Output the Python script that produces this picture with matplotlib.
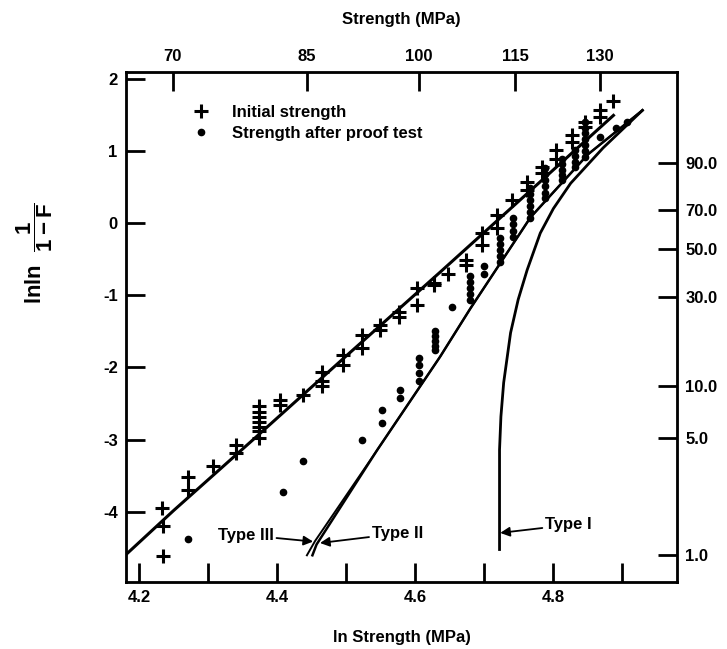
import numpy as np
import matplotlib
matplotlib.use("Agg")
import matplotlib.pyplot as plt

plt.rcParams['font.family'] = ['Liberation Sans', 'DejaVu Sans']
plt.rcParams['font.weight'] = 'bold'
plt.rcParams['mathtext.fontset'] = 'custom'
plt.rcParams['mathtext.rm'] = 'Liberation Sans:bold'
plt.rcParams['mathtext.bf'] = 'Liberation Sans:bold'
plt.rcParams['mathtext.it'] = 'Liberation Sans:bold'

# ---------------- data ----------------
# Initial strength (+): ln strength, ln ln 1/(1-F)
init_x = [4.233, 4.234, 4.235, 4.271, 4.271, 4.307, 4.341, 4.341,
          4.373, 4.373, 4.373, 4.373, 4.373, 4.373, 4.373,
          4.404, 4.404, 4.437, 4.465, 4.465, 4.465, 4.495, 4.495,
          4.523, 4.523, 4.549, 4.549, 4.576, 4.576, 4.602, 4.602, 4.627,
          4.627, 4.648, 4.674, 4.674, 4.697, 4.697, 4.718, 4.718, 4.740,
          4.762, 4.762, 4.784, 4.784, 4.804, 4.804, 4.827, 4.827,
          4.846, 4.846, 4.868, 4.868, 4.886]
init_y = [-3.94, -4.19, -4.61, -3.52, -3.70, -3.36, -3.08, -3.19,
          -2.54, -2.61, -2.68, -2.75, -2.82, -2.88, -2.97,
          -2.45, -2.52, -2.38, -2.06, -2.19, -2.26, -1.83, -1.96,
          -1.55, -1.73, -1.41, -1.48, -1.23, -1.30, -0.90, -1.13, -0.83,
          -0.86, -0.70, -0.51, -0.58, -0.14, -0.30, 0.11, -0.07, 0.32,
          0.57, 0.46, 0.78, 0.69, 1.01, 0.89, 1.22, 1.12,
          1.40, 1.33, 1.56, 1.47, 1.69]

# Strength after proof test (dots)
proof_x = [4.271, 4.408, 4.437, 4.523, 4.552, 4.552, 4.578, 4.578,
           4.605, 4.605, 4.605, 4.605,
           4.629, 4.629, 4.629, 4.629, 4.629,
           4.653, 4.679, 4.679, 4.679, 4.679, 4.679, 4.699, 4.699,
           4.722, 4.722, 4.722, 4.722, 4.722,
           4.742, 4.742, 4.742, 4.742,
           4.766, 4.766, 4.766, 4.766, 4.766, 4.766,
           4.788, 4.788, 4.788, 4.788, 4.788, 4.788,
           4.813, 4.813, 4.813, 4.813, 4.813,
           4.832, 4.832, 4.832, 4.832,
           4.846, 4.846, 4.846, 4.846, 4.846, 4.846, 4.846,
           4.868, 4.890, 4.907]
proof_y = [-4.38, -3.73, -3.30, -3.00, -2.59, -2.77, -2.31, -2.42,
           -1.87, -1.96, -2.08, -2.19,
           -1.50, -1.56, -1.63, -1.70, -1.76,
           -1.16, -0.74, -0.82, -0.90, -0.98, -1.07, -0.60, -0.70,
           -0.21, -0.29, -0.37, -0.46, -0.54,
           0.07, -0.02, -0.11, -0.19,
           0.48, 0.40, 0.32, 0.24, 0.15, 0.07,
           0.76, 0.68, 0.60, 0.51, 0.42, 0.34,
           0.89, 0.82, 0.74, 0.66, 0.59,
           1.01, 0.93, 0.85, 0.78,
           1.40, 1.32, 1.24, 1.16, 1.08, 1.00, 0.92,
           1.19, 1.31, 1.40]

# Fitted line for initial strength
fit_x = [4.181, 4.25, 4.365, 4.50, 4.636, 4.76, 4.887]
fit_y = [-4.59, -3.98, -3.00, -1.84, -0.68, 0.39, 1.49]

# Type II / Type III predictions
type2_x = [4.451, 4.457, 4.545, 4.636, 4.680, 4.767, 4.85, 4.929]
type2_y = [-4.60, -4.45, -3.14, -1.85, -1.18, 0.08, 0.95, 1.56]
type3_x = [4.443, 4.455, 4.545, 4.636, 4.680, 4.767, 4.85, 4.929]
type3_y = [-4.60, -4.40, -3.14, -1.85, -1.18, 0.08, 0.95, 1.56]

# Type I prediction
type1_x = [4.722, 4.722, 4.722, 4.724, 4.728, 4.738, 4.749, 4.762, 4.781, 4.800, 4.825, 4.872, 4.929]
type1_y = [-4.52, -3.60, -3.14, -2.68, -2.21, -1.52, -1.06, -0.65, -0.14, 0.20, 0.55, 1.04, 1.56]

# Axis ticks
x_ticks = [4.2, 4.3, 4.4, 4.5, 4.6, 4.7, 4.8, 4.9]
x_ticklabels = ['4.2', '', '4.4', '', '4.6', '', '4.8', '']
y_ticks = [2, 1, 0, -1, -2, -3, -4]
top_mpa = [70, 85, 100, 115, 130]
right_pct = [90.0, 70.0, 50.0, 30.0, 10.0, 5.0, 1.0]

# ---------------- plot ----------------
fig = plt.figure(figsize=(7.27, 6.49), dpi=100)
ax = fig.add_axes([0.1733, 0.1032, 0.7579, 0.7858])
ax.set_xlim(4.181, 4.979)
ax.set_ylim(-4.97, 2.09)

ax.plot(fit_x, fit_y, color='black', lw=2.2)
ax.plot(type2_x, type2_y, color='black', lw=1.8)
ax.plot(type3_x, type3_y, color='black', lw=1.4)
ax.plot(type1_x, type1_y, color='black', lw=2.0)

ax.plot(init_x, init_y, linestyle='none', marker='+', markersize=10,
        markeredgewidth=2.2, color='black', label='Initial strength')
ax.plot(proof_x, proof_y, linestyle='none', marker='o', markersize=4.5,
        color='black', label='Strength after proof test')

leg = ax.legend(loc='upper left', bbox_to_anchor=(0.088, 0.955), frameon=False,
                fontsize=12, handletextpad=0.85, labelspacing=0.35,
                borderaxespad=0.2)
for t in leg.get_texts():
    t.set_fontweight('bold')

# annotations
ax.annotate('Type III', xy=(4.452, -4.41), xytext=(4.395, -4.32),
            ha='right', va='center', fontsize=12, fontweight='bold',
            arrowprops=dict(arrowstyle='-|>', color='black', lw=1.3,
                            mutation_scale=14, shrinkA=0, shrinkB=0))
ax.annotate('Type II', xy=(4.462, -4.43), xytext=(4.537, -4.30),
            ha='left', va='center', fontsize=12, fontweight='bold',
            arrowprops=dict(arrowstyle='-|>', color='black', lw=1.3,
                            mutation_scale=14, shrinkA=0, shrinkB=0))
ax.annotate('Type I', xy=(4.723, -4.29), xytext=(4.788, -4.18),
            ha='left', va='center', fontsize=12, fontweight='bold',
            arrowprops=dict(arrowstyle='-|>', color='black', lw=1.3,
                            mutation_scale=14, shrinkA=0, shrinkB=0))

ax.set_xticks(x_ticks)
ax.set_xticklabels(x_ticklabels)
ax.set_yticks(y_ticks)
ax.set_yticklabels([str(v) for v in y_ticks])
ax.tick_params(direction='in', length=14, width=2, labelsize=12, pad=6)
for s in ax.spines.values():
    s.set_linewidth(2)
ax.set_xlabel('ln Strength (MPa)', fontsize=12, fontweight='bold', labelpad=18)
ax.set_ylabel(r'$\mathbf{lnln}\ \ \mathbf{\dfrac{1}{1-F}}$', fontsize=16)
ax.yaxis.set_label_coords(-0.128, 0.645)

# top axis: strength in MPa
axt = ax.twiny()
axt.set_xlim(ax.get_xlim())
axt.set_xticks(np.log(top_mpa))
axt.set_xticklabels([str(v) for v in top_mpa])
axt.tick_params(direction='in', length=14, width=2, labelsize=12, pad=6)
axt.set_xlabel('Strength (MPa)', fontsize=12, fontweight='bold', labelpad=18)

# right axis: cumulative failure probability (%)
axr = ax.twinx()
axr.set_ylim(ax.get_ylim())
Fp = np.array(right_pct) / 100.0
axr.set_yticks(np.log(-np.log(1 - Fp)))
axr.set_yticklabels(['%.1f' % v for v in right_pct])
axr.tick_params(direction='in', length=14, width=2, labelsize=12, pad=6)

fig.savefig('out.png', dpi=100)
